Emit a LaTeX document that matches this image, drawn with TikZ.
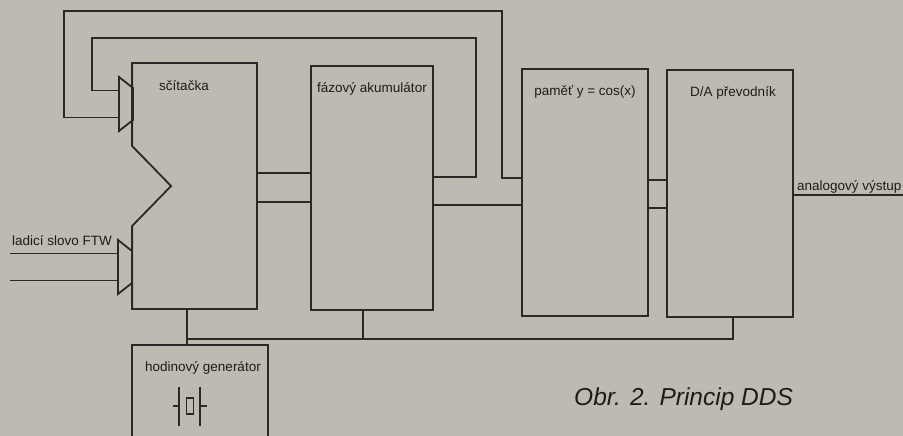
\documentclass[tikz,border=0pt]{standalone}
\usepackage{fontspec}
\setmainfont{Liberation Sans}
\usetikzlibrary{calc, positioning}
\definecolor{paper}{RGB}{189,187,177}
\definecolor{ink}{RGB}{42,41,39}
\definecolor{print}{RGB}{28,28,27}

\begin{document}
\begin{tikzpicture}[x=1pt, y=-1pt]

% TikZ styles
\tikzset{
  wire/.style={draw=ink, line width=1.8pt},
  block/.style={rectangle, draw=ink, line width=1.8pt, inner sep=0pt},
  lbl/.style={text=print, font=\fontsize{13.5}{16}\selectfont, inner sep=0pt},
  title/.style={lbl, anchor=base, yshift=-27.5pt}
};

\useasboundingbox (0,0) rectangle (903,436);
\fill[paper] (0,0) rectangle (903,436);

% --- Bloecke ---
\node[block, draw=none, minimum width=123pt, minimum height=244pt, label={[title, xshift=-10.5pt]north:sčítačka}] (adder) at (194.5,186) {};
\node[block, minimum width=122pt, minimum height=244pt, label={[title]north:fázový akumulátor}] (accu) at (372,188) {};
\node[block, minimum width=126pt, minimum height=247pt, label={[title]north:paměť y = cos(x)}] (mem) at (585,192.5) {};
\node[block, minimum width=126pt, minimum height=247pt, label={[title, xshift=3pt]north:D/A převodník}] (DA) at (730,193.5) {};
\node[block, minimum width=136pt, minimum height=93pt, label={[title, xshift=3pt]north:hodinový generátor}] (clock) at (200,391.5) {};

% Sčítačka mit Kerbe
\draw[wire] (adder.north west) -- (adder.north east) -- (adder.south east) -- (adder.south west)
  -- ($(adder.west)+(0,40)$) -- ($(adder.west)+(39,0)$) -- ($(adder.west)+(0,-40)$) -- cycle;

% Eingaenge der Sčítačka
\coordinate (pA) at (119,104);
\coordinate (pB) at (118,267);
\draw[wire] ($(pA)+(0,-27)$) -- ($(pA)+(14,-16)$) -- ($(pA)+(14,16)$) -- ($(pA)+(0,27)$) -- cycle;
\draw[wire] ($(pB)+(0,-27)$) -- ($(pB)+(14,-16)$) -- ($(pB)+(14,16)$) -- ($(pB)+(0,27)$) -- cycle;

% Krystal
\coordinate (xtal) at (190,406);
\draw[wire, line width=1.3pt] ($(xtal)+(-17,0)$) -- ($(xtal)+(-11,0)$);
\draw[wire, line width=1.3pt] ($(xtal)+(-11,-19.5)$) -- ($(xtal)+(-11,19.5)$);
\draw[wire, line width=1.3pt] ($(xtal)+(-3.5,-8)$) rectangle ($(xtal)+(3.5,8)$);
\draw[wire, line width=1.3pt] ($(xtal)+(10,-19.5)$) -- ($(xtal)+(10,19.5)$);
\draw[wire, line width=1.3pt] ($(xtal)+(10,0)$) -- ($(xtal)+(17,0)$);

% --- Texte ---
\node[lbl, anchor=base west] (ftw) at (12,245) {ladicí slovo FTW};
\node[lbl, anchor=base west] (outlbl) at (797,190) {analogový výstup};
\node[anchor=base west, text=print, inner sep=0pt, font=\itshape\fontsize{24.5}{28}\selectfont] (caption) at (574,405) {Obr. 2. Princip DDS};

% --- Pfeile ---
\coordinate (inTop) at (10,253.5);
\coordinate (inBot) at (10,280.5);
\coordinate (out) at (903,195);
\coordinate (loopO) at (64,11);
\coordinate (loopI) at (92,38);
\coordinate (busL) at (187,339);
\coordinate (busR) at (733,339);

\draw[wire] (inTop) -- ($(pB)+(0,-13.5)$);
\draw[wire] (inBot) -- ($(pB)+(0,13.5)$);

\draw[wire] ([yshift=13pt]adder.east) -- ([yshift=13pt]adder.east -| accu.west);
\draw[wire] ([yshift=-16pt]adder.east) -- ([yshift=-16pt]adder.east -| accu.west);
\draw[wire] ([yshift=-17pt]accu.east) -- ([yshift=-17pt]accu.east -| mem.west);
\draw[wire] ([yshift=12.5pt]mem.east) -- ([yshift=12.5pt]mem.east -| DA.west);
\draw[wire] ([yshift=-15.5pt]mem.east) -- ([yshift=-15.5pt]mem.east -| DA.west);
\draw[wire] ([yshift=-1.5pt]DA.east) -- (out);

%Rueckfuehrungen oben
\draw[wire] ([yshift=14.5pt]mem.west) -- ++(-19,0) |- (loopO) |- ($(pA)+(0,13.5)$);
\draw[wire] ([yshift=11pt]accu.east) -- ++(42,0) |- (loopI) |- ($(pA)+(0,-13.5)$);

%Takt unten
\draw[wire] (busL |- adder.south) -- (busL |- clock.north);
\draw[wire] (busL) -- (busR) -- (busR |- DA.south);
\draw[wire] ([xshift=-9pt]accu.south) -- ([xshift=-9pt]accu.south |- busL);

\end{tikzpicture}
\end{document}
